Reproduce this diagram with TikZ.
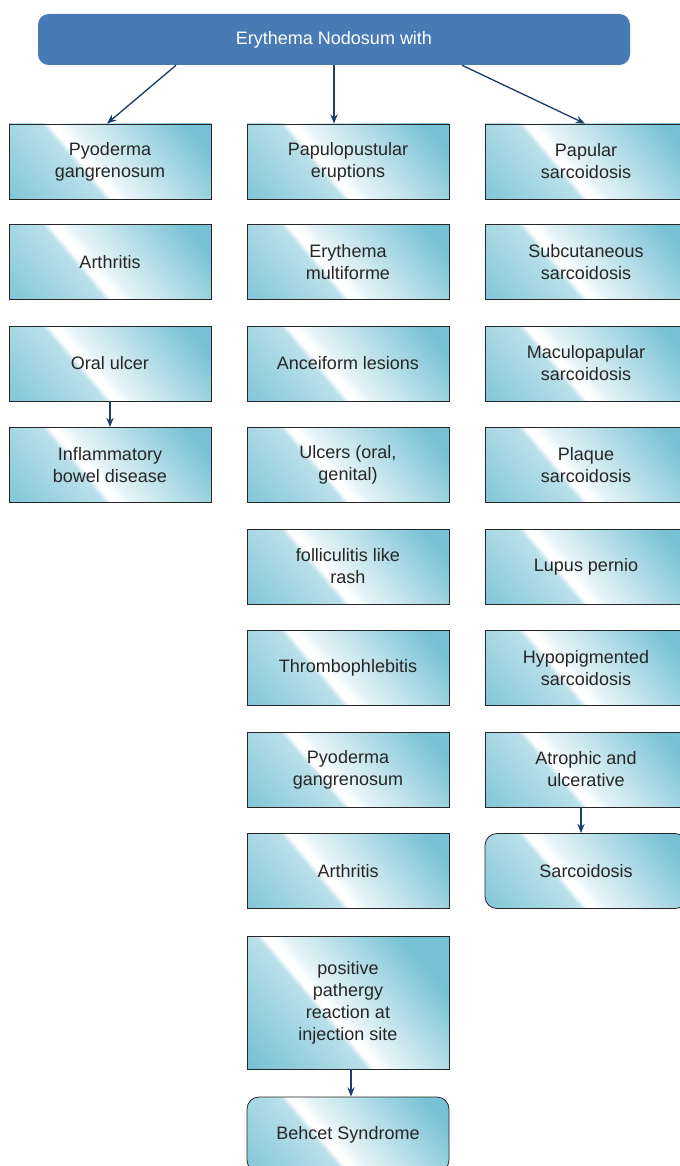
\documentclass[tikz,border=0pt]{standalone}
\usepackage{fontspec}
\setmainfont{Liberation Sans}
\usetikzlibrary{arrows.meta}
\definecolor{headblue}{RGB}{72,122,182}
\definecolor{boxteal}{RGB}{118,193,212}
\definecolor{linknavy}{RGB}{30,62,105}
\colorlet{tealpale}{boxteal!50!white}
\colorlet{tealmist}{boxteal!18!white}
% teal with a white streak a little left of the middle
\pgfdeclareverticalshading{streak}{100bp}{color(0bp)=(boxteal); color(33bp)=(boxteal);
    color(47.5bp)=(tealpale); color(48.4bp)=(white); color(49.4bp)=(white);
    color(51bp)=(tealmist); color(66bp)=(boxteal); color(100bp)=(boxteal)}

\begin{document}
\begin{tikzpicture}[
    x=0.75pt, y=-0.75pt,
    box/.style={draw=black!85, line width=0.6pt,
        path picture={
            \begin{scope}[transform canvas={rotate around={-50:(path picture bounding box.center)}}]
                \shade[shading=streak] ([shift={(-150,-137)}]path picture bounding box.center) rectangle ++(300,300);
            \end{scope}},
        minimum width=151.5pt, minimum height=56.25pt,
        inner sep=2pt, align=center, text=black!85},
    endbox/.style={box, rounded corners=9pt},
    head/.style={fill=headblue, rounded corners=8pt, minimum width=444pt,
        minimum height=38.25pt, text=white},
    link/.style={->, draw=linknavy, line width=1pt},
    >={Stealth[length=7pt, width=5.5pt]},
    font=\fontsize{13.5}{16.5}\selectfont
]
    \useasboundingbox (0,0) rectangle (680,1166);

    % top node
    \node[head] (EN) at (334,39.5) {Erythema Nodosum with};

    % left column
    \node[box] (L1) at (110,161.5) {Pyoderma\\gangrenosum};
    \node[box] (L2) at (110,262)   {Arthritis};
    \node[box] (L3) at (110,363.5) {Oral ulcer};
    \node[box] (L4) at (110,465)   {Inflammatory\\bowel disease};

    % middle column
    \node[box] (M1) at (348,161.5) {Papulopustular\\eruptions};
    \node[box] (M2) at (348,262)   {Erythema\\multiforme};
    \node[box] (M3) at (348,363.5) {Anceiform lesions};
    \node[box] (M4) at (348,465)   {Ulcers (oral,\\genital)};
    \node[box] (M5) at (348,566.5) {folliculitis like\\rash};
    \node[box] (M6) at (348,668)   {Thrombophlebitis};
    \node[box] (M7) at (348,769.5) {Pyoderma\\gangrenosum};
    \node[box] (M8) at (348,871)   {Arthritis};
    \node[box, minimum height=99.75pt] (M9) at (348,1002.5) {positive\\pathergy\\reaction at\\injection site};
    \node[endbox] (M10) at (348,1134.5) {Behcet Syndrome};

    % right column
    \node[box] (R1) at (586,161.5) {Papular\\sarcoidosis};
    \node[box] (R2) at (586,262)   {Subcutaneous\\sarcoidosis};
    \node[box] (R3) at (586,363.5) {Maculopapular\\sarcoidosis};
    \node[box] (R4) at (586,465)   {Plaque\\sarcoidosis};
    \node[box] (R5) at (586,566.5) {Lupus pernio};
    \node[box] (R6) at (586,668)   {Hypopigmented\\sarcoidosis};
    \node[box] (R7) at (586,769.5) {Atrophic and\\ulcerative};
    \node[endbox] (R8) at (586,871) {Sarcoidosis};

    % 1. arrows from the top node
    \draw[link] ([xshift=-118.5pt]EN.south) -- ([xshift=-2.25pt]L1.north);
    \draw[link] (EN.south) -- ([xshift=-10.5pt]M1.north);
    \draw[link] ([xshift=96pt]EN.south) -- ([xshift=-0.75pt]R1.north);

    % 2. arrows inside the columns
    \draw[link] (L3.south) -- (L4.north);
    \draw[link] ([xshift=2.25pt]M9.south) -- ([xshift=2.25pt]M10.north);
    \draw[link] ([xshift=-3.75pt]R7.south) -- ([xshift=-3.75pt]R8.north);

\end{tikzpicture}
\end{document}
